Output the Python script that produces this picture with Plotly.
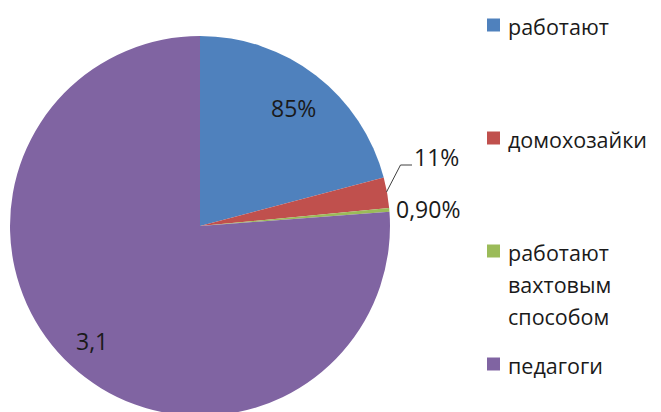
import plotly.graph_objects as go

# Data
categories = ["работают", "домохозайки", "работают вахтовым способом", "педагоги"]
legend_lines = [["работают"], ["домохозайки"], ["работают", "вахтовым", "способом"], ["педагоги"]]
values = [20.9, 2.6, 0.3, 76.2]           # slice sizes as drawn
slice_labels = ["85%", "11%", "0,90%", "3,1"]  # data labels as printed
colors = ["#4F81BD", "#C0504D", "#9BBB59", "#8064A2"]

W, H = 661, 412
OFF = 8          # page body margin: the figure is drawn 8px right / down
FONT = "Open Sans"
TXT = "#1a1a1a"
FS = 23
FS_LEG = 21.5
LEG_LINE = 32

# pie geometry in viewport pixels
cx, cy, r = 200 - OFF, 226 - OFF, 190

fig = go.Figure()
fig.add_trace(go.Pie(
    labels=categories,
    values=values,
    sort=False,
    direction="clockwise",
    rotation=0,
    marker=dict(colors=colors, line=dict(width=0)),
    textinfo="none",
    hoverinfo="label+percent",
    showlegend=False,
    domain=dict(x=[(cx - r) / W, (cx + r) / W], y=[(H - cy - r) / H, (H - cy + r) / H]),
))

def px(x):
    return (x - OFF) / W

def py(y):
    return 1 - (y - OFF) / H

annotations = []
# slice data labels
label_pos = [(293, 108), (436, 157), (428, 209), (92, 341)]
for txt, (x, y) in zip(slice_labels, label_pos):
    annotations.append(dict(x=px(x), y=py(y), xref="paper", yref="paper", text=txt,
                            showarrow=False, font=dict(family=FONT, size=FS, color=TXT),
                            xanchor="center", yanchor="middle"))

shapes = [
    # leader line for the "11%" label
    dict(type="path", xref="paper", yref="paper",
         path=f"M {px(386.5)},{py(192)} L {px(400.5)},{py(165)} L {px(412)},{py(165)}",
         line=dict(color="#404040", width=1)),
]

# legend (drawn by hand to reproduce the item spacing)
legend_y = [25, 138, 251, 364]
for lines, col, y in zip(legend_lines, colors, legend_y):
    shapes.append(dict(type="rect", xref="paper", yref="paper",
                       x0=px(487), x1=px(500), y0=py(y - 6.5), y1=py(y + 6.5),
                       fillcolor=col, line=dict(width=0)))
    for i, line in enumerate(lines):
        annotations.append(dict(x=px(506), y=py(y - 15 + i * LEG_LINE), xref="paper", yref="paper",
                                text=line, showarrow=False, align="left",
                                font=dict(family=FONT, size=FS_LEG, color=TXT),
                                xanchor="left", yanchor="top"))

fig.update_layout(
    width=W, height=H,
    margin=dict(l=0, r=0, t=0, b=0),
    paper_bgcolor="white", plot_bgcolor="white",
    annotations=annotations, shapes=shapes,
)

fig.write_html("out.html")
